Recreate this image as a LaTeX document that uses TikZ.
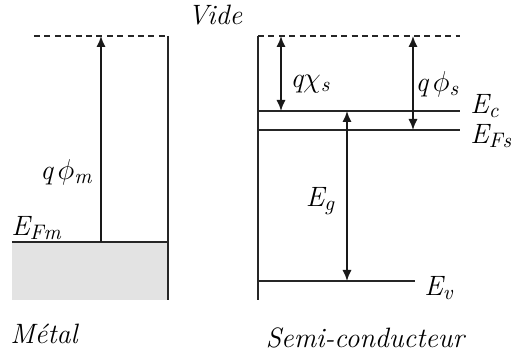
\documentclass[tikz,border=0pt]{standalone}
\usepackage{fontspec}
\usetikzlibrary{arrows.meta}
\newcommand{\sbs}[1]{\raisebox{-0.35ex}{\fontsize{10.5}{12}\selectfont #1}}
\begin{document}
\begin{tikzpicture}[x=0.5pt,y=-0.5pt,
  lvl/.style={line width=0.85pt,black!85},
  vac/.style={line width=0.85pt,black!85,dash pattern=on 3pt off 2.2pt},
  arr/.style={line width=0.85pt,black!90,-{Latex[length=5.5pt,width=4.6pt]}},
  darr/.style={line width=0.85pt,black!90,{Latex[length=5.5pt,width=4.6pt]}-{Latex[length=5.5pt,width=4.6pt]}},
  lab/.style={font=\fontsize{14}{16}\selectfont\itshape,inner sep=0pt}]
\useasboundingbox (0,0) rectangle (511,356);
% metal
\fill[black!11] (12,242) rectangle (168,300);
\coordinate (mvl) at (34,36);
\coordinate (mvr) at (168,36);
\coordinate (mbot) at (168,300);
\coordinate (mfl) at (12,242);
\coordinate (mfr) at (168,242);
\coordinate (mab) at (101,242);
\coordinate (mat) at (101,36);
\draw[vac] (mvl) -- (mvr);
\draw[lvl] (mvr) -- (mbot);
\draw[lvl] (mfl) -- (mfr);
\draw[arr] (mab) -- (mat);
% semiconductor
\coordinate (svl) at (258,36);
\coordinate (svr) at (460,36);
\coordinate (sbot) at (258,300);
\coordinate (ecl) at (258,111);
\coordinate (ecr) at (460,111);
\coordinate (efl) at (258,130);
\coordinate (efr) at (460,130);
\coordinate (evl) at (258,281);
\coordinate (evr) at (415,281);
\draw[vac] (svl) -- (svr);
\draw[lvl] (svl) -- (sbot);
\draw[lvl] (ecl) -- (ecr);
\draw[lvl] (efl) -- (efr);
\draw[lvl] (evl) -- (evr);
\coordinate (chit) at (281,36);
\coordinate (chib) at (281,111);
\coordinate (phit) at (413,36);
\coordinate (phib) at (413,130);
\coordinate (egt) at (347,111);
\coordinate (egb) at (347,281);
\draw[darr] (chit) -- (chib);
\draw[darr] (phit) -- (phib);
\draw[darr] (egt) -- (egb);
% labels
\node[lab] (vide) at (215,15) {Vide};
\node[lab] (qphim) at (66,172) {q\,$\phi$\sbs{m}};
\node[lab] (efm) at (36,228) {E\sbs{Fm}};
\node[lab] (qchis) at (310,84) {q$\chi$\sbs{s}};
\node[lab] (qphis) at (437,84) {q\,$\phi$\sbs{s}};
\node[lab,anchor=west] (ec) at (470,106) {E\sbs{c}};
\node[lab,anchor=west] (efs) at (470,136) {E\sbs{Fs}};
\node[lab] (eg) at (320,201) {E\sbs{g}};
\node[lab,anchor=west] (ev) at (424,288) {E\sbs{v}};
\node[lab] (metal) at (44,334) {Métal};
\node[lab] (semi) at (365,338) {Semi-conducteur};
\end{tikzpicture}
\end{document}
